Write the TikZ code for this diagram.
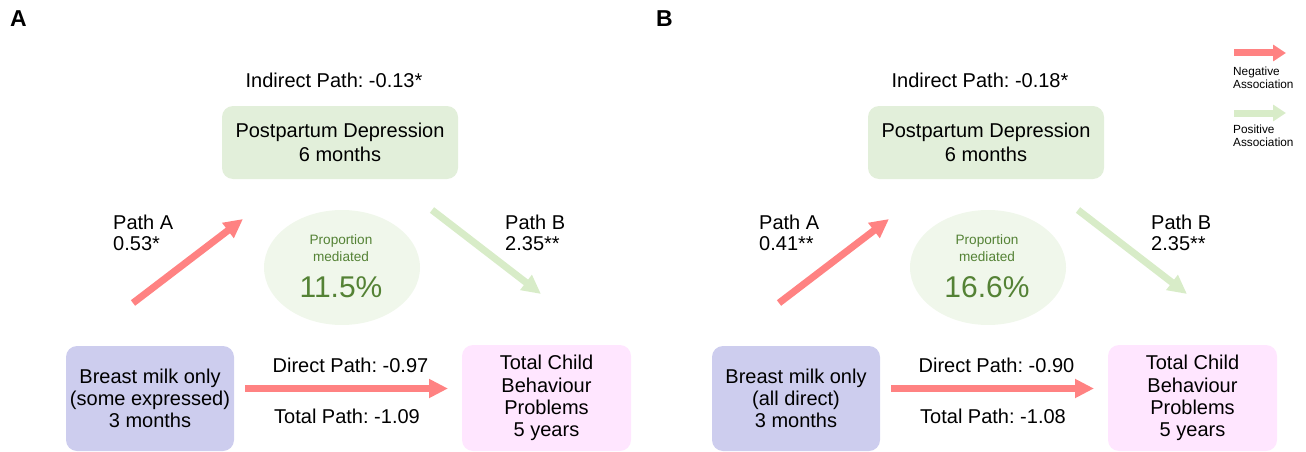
\documentclass[tikz,border=0pt]{standalone}
\usepackage{fontspec}
\setmainfont{Liberation Sans}
\usetikzlibrary{arrows.meta,shapes.geometric}
\frenchspacing
\definecolor{negred}{RGB}{255,130,130}
\definecolor{posgreen}{RGB}{216,236,200}
\definecolor{medbox}{RGB}{226,239,218}
\definecolor{medell}{RGB}{240,247,235}
\definecolor{xbox}{RGB}{205,205,238}
\definecolor{ybox}{RGB}{255,230,255}
\definecolor{medtext}{RGB}{84,130,53}
\tikzset{
  lbl/.style={font=\fontsize{20}{24}\selectfont, inner sep=0pt},
  panellbl/.style={font=\fontsize{23}{23}\selectfont\bfseries, inner sep=0pt},
  boxbase/.style={rounded corners=11pt, inner sep=0pt, align=center},
  negarrow/.style={draw=negred, line width=7pt, -{Triangle[length=19pt,width=18pt]}},
  posarrow/.style={draw=posgreen, line width=7pt, -{Triangle[length=19pt,width=18pt]}},
  negleg/.style={draw=negred, line width=7pt, -{Triangle[length=13pt,width=16pt]}},
  posleg/.style={draw=posgreen, line width=7pt, -{Triangle[length=13pt,width=16pt]}},
  legtext/.style={font=\fontsize{11.8}{12.5}\selectfont, inner sep=0pt, align=left, anchor=west},
}
\newcommand\mypanel[9]{%
  \node[panellbl] (#1lab) at (18.5,19) {#2};
  \node[lbl] (#1ind) at (334,80) {Indirect Path: #3};
  \node[boxbase, fill=medbox, minimum width=236pt, minimum height=73pt,
        font=\fontsize{20}{24.5}\selectfont] (#1M) at (340,142.5) {Postpartum Depression\\6 months};
  \node[boxbase, fill=xbox, minimum width=168pt, minimum height=105pt,
        font=\fontsize{20}{22}\selectfont] (#1X) at (150,398.5) {#6};
  \node[boxbase, fill=ybox, minimum width=169pt, minimum height=106pt,
        font=\fontsize{20}{22.3}\selectfont] (#1Y) at (546.5,398) {Total Child\\Behaviour\\Problems\\5 years};
  \node[ellipse, fill=medell, minimum width=156pt, minimum height=115pt, inner sep=0pt] (#1E) at (342,267.5) {};
  \node[font=\fontsize{13.6}{17}\selectfont, text=medtext, align=center, inner sep=0pt] (#1prop) at (341,248.5) {Proportion\\mediated};
  \node[font=\fontsize{30}{30}\selectfont, text=medtext, inner sep=0pt] (#1pct) at (341,287) {#9};
  \node[lbl, anchor=west] (#1pa) at (113,222) {Path A};
  \node[lbl, anchor=west] (#1pav) at (113,244) {#4};
  \node[lbl, anchor=west] (#1pb) at (505,222) {Path B};
  \node[lbl, anchor=west] (#1pbv) at (505,244) {#5};
  \node[lbl] (#1dir) at (350.5,365) {Direct Path: #7};
  \node[lbl] (#1tot) at (347,416) {Total Path: #8};
  \coordinate (#1As) at (133,303);
  \coordinate (#1Ae) at (243,219);
  \coordinate (#1Bs) at (432,210);
  \coordinate (#1Be) at (541,294);
  \coordinate (#1Cs) at (245,388.5);
  \coordinate (#1Ce) at (448,388.5);
  \draw[negarrow] (#1As) -- (#1Ae);
  \draw[posarrow] (#1Bs) -- (#1Be);
  \draw[negarrow] (#1Cs) -- (#1Ce);
}
\begin{document}
\begin{tikzpicture}[x=1pt,y=-1pt]
\useasboundingbox (0,0) rectangle (1306,452);
\begin{scope}
\mypanel{a}{A}{-0.13*}{0.53*}{2.35**}{Breast milk only\\(some expressed)\\3 months}{-0.97}{-1.09}{11.5\%}
\end{scope}
\begin{scope}[xshift=646pt]
\mypanel{b}{B}{-0.18*}{0.41**}{2.35**}{Breast milk only\\(all direct)\\3 months}{-0.90}{-1.08}{16.6\%}
\end{scope}
% legend
\coordinate (ns) at (1234,53);
\coordinate (ne) at (1286,53);
\coordinate (ps) at (1234,113);
\coordinate (pe) at (1286,113);
\draw[negleg] (ns) -- (ne);
\draw[posleg] (ps) -- (pe);
\node[legtext] (negt) at (1233,78) {Negative\\Association};
\node[legtext, font=\fontsize{11.8}{13}\selectfont] (post) at (1233,136) {Positive\\Association};
\end{tikzpicture}
\end{document}
